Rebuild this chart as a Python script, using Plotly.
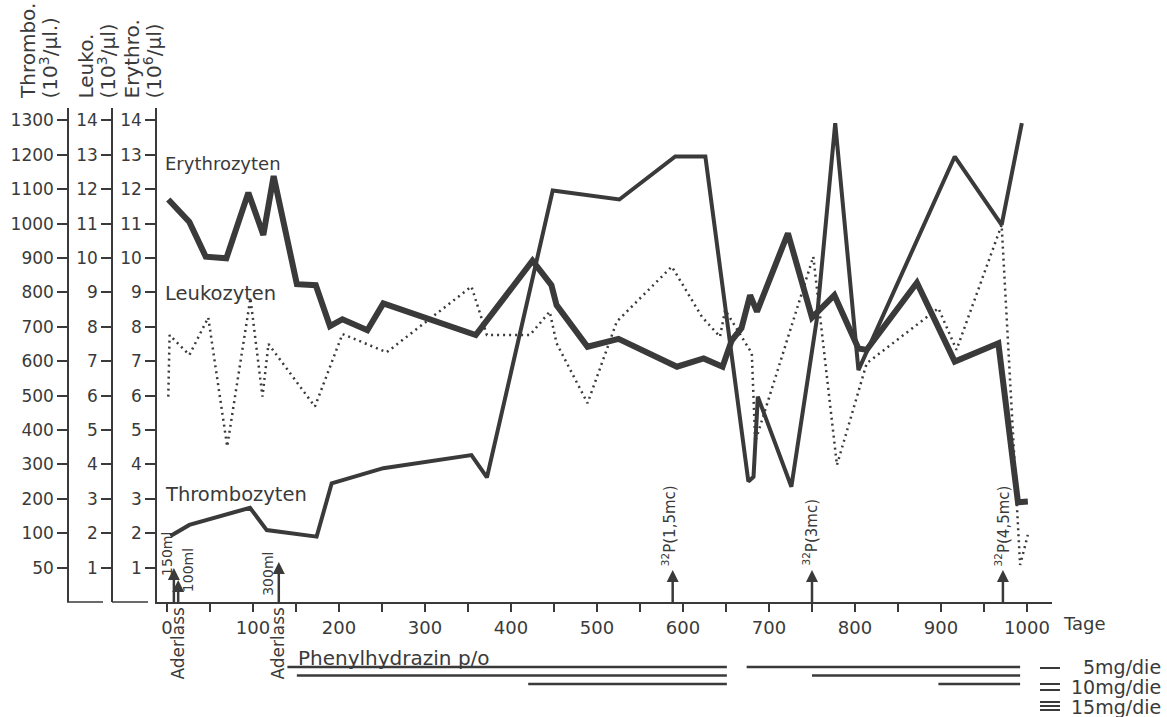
import numpy as np
import plotly.graph_objects as go

# ---------------- data ----------------
# Erythrozyten (10^6/µl)
ery_days = [1.5, 26, 45, 69, 94.6, 112, 124, 151, 173, 189.5, 204, 233, 251.5, 359, 425,
            447, 453, 489, 525, 593, 624, 646, 656.6, 668, 678, 686, 722, 750, 776, 804,
            813.6, 872, 916, 966.7, 989.5, 1001]
ery_vals = [11.7, 11.05, 10.04, 9.99, 11.9, 10.67, 12.38, 9.24, 9.21, 8.02, 8.22, 7.9, 8.68,
            7.76, 9.92, 9.21, 8.63, 7.42, 7.65, 6.84, 7.08, 6.84, 7.6, 7.96, 8.92, 8.44, 10.72,
            8.27, 8.92, 7.37, 7.33, 9.28, 6.99, 7.52, 2.9, 2.92]

# Leukozyten (10^3/µl)
leu_days = [1.5, 3, 26, 48, 70, 97, 111, 118, 172, 204, 255.5, 354, 372, 422, 445, 453, 489,
            523, 587, 622, 643, 649, 680, 684, 751.5, 779, 813.6, 897, 918, 970.5, 992, 1001]
leu_vals = [5.97, 7.76, 7.18, 8.27, 4.52, 8.83, 5.97, 7.5, 5.68, 7.79, 7.26, 9.17, 7.76, 7.76,
            8.44, 7.52, 5.78, 8.15, 9.75, 8.29, 7.71, 8.49, 7.23, 4.66, 10.04, 3.98, 6.94, 8.54,
            7.33, 10.96, 1.08, 1.95]

# Thrombozyten (10^3/µl)
thr_days = [4, 26, 96.5, 116, 174, 191.5, 251.5, 354, 372, 448.5, 526, 591, 626, 676, 682, 687,
            726, 755.5, 777, 804, 916, 970.5, 994]
thr_vals = [96, 124, 174, 109, 95, 245, 289, 327, 262, 1096, 1070, 1195, 1195, 250, 264, 497,
            235, 720, 1292, 574, 1195, 996, 1292]

# axis tick labels
unit_ticks = list(range(1, 15))
thr_tick_labels = [50] + list(range(100, 1301, 100))
x_major = list(range(0, 1001, 100))

# events
ader_days = [8, 13, 130]
ader_tips = [0.99, 0.64, 1.16]
ader_vols = ["150ml", "100ml", "300ml"]
p32_days = [588, 750, 972]
p32_tips = [0.93, 0.93, 0.93]
p32_doses = ["1,5", "3", "4,5"]

# Phenylhydrazin p/o dosage periods (row = number of 5 mg units)
phen_start = [140, 151, 420, 674, 750, 897]
phen_end = [651, 651, 651, 992, 992, 992]
phen_row = [1, 2, 3, 1, 2, 3]

# ---------------- layout helpers ----------------
W, H = 1167, 717
INK = "#3a3a3a"
FONT = "DejaVu Sans"


def px(x):
    return x / W


def py(y):
    return 1 - y / H


X_LEFT, X_RIGHT = 157, 1052
X0, PPD = 167, 0.86            # pixel of day 0, pixels per day
Y0, PPU = 602, 34.4            # pixel of unit 0, pixels per unit
Y_TOP = 108
x_range = [(X_LEFT - X0) / PPD, (X_RIGHT - X0) / PPD]
y_range = [0, (Y0 - Y_TOP) / PPU]
y_domain = [py(Y0), py(Y_TOP)]

thr_units = np.interp(thr_vals, thr_tick_labels, unit_ticks)

fig = go.Figure()
fig.add_trace(go.Scatter(x=ery_days, y=ery_vals, mode="lines", yaxis="y",
                         line=dict(color=INK, width=6), hoverinfo="skip"))
fig.add_trace(go.Scatter(x=thr_days, y=thr_units, mode="lines", yaxis="y3",
                         line=dict(color=INK, width=4), hoverinfo="skip"))
fig.add_trace(go.Scatter(x=leu_days, y=leu_vals, mode="lines", yaxis="y2",
                         line=dict(color=INK, width=2.5, dash="2px,4px"), hoverinfo="skip"))
for s, e, r in zip(phen_start, phen_end, phen_row):
    fig.add_trace(go.Scatter(x=[s, e], y=[r, r], mode="lines", yaxis="y4",
                             line=dict(color=INK, width=2.5), hoverinfo="skip"))

# event arrows (shaft + head)
ev_days = ader_days + p32_days
ev_tips = ader_tips + p32_tips
shaft_x, shaft_y = [], []
for d, t in zip(ev_days, ev_tips):
    shaft_x += [d, d, None]
    shaft_y += [0, t - 0.25, None]
fig.add_trace(go.Scatter(x=shaft_x, y=shaft_y, mode="lines", yaxis="y",
                         line=dict(color=INK, width=2.5), hoverinfo="skip"))
fig.add_trace(go.Scatter(x=ev_days, y=ev_tips, mode="markers", yaxis="y",
                         marker=dict(symbol="arrow-up", size=12, color=INK,
                                     line=dict(width=0)), hoverinfo="skip"))

common_y = dict(range=y_range, showline=True, linecolor=INK, linewidth=1.5,
                ticks="outside", ticklen=10, tickwidth=1.5, tickcolor=INK,
                tickvals=unit_ticks, showgrid=False, zeroline=False,
                tickfont=dict(family=FONT, size=17, color=INK))

fig.update_layout(
    width=W, height=H, margin=dict(l=0, r=0, t=0, b=0),
    paper_bgcolor="white", plot_bgcolor="rgba(0,0,0,0)", showlegend=False,
    font=dict(family=FONT, size=18, color=INK),
    xaxis=dict(domain=[px(X_LEFT), px(X_RIGHT)], range=x_range, anchor="y",
               showline=True, linecolor=INK, linewidth=2, ticks="outside", ticklen=8,
               tickwidth=1.5, tickcolor=INK, tickvals=x_major,
               ticktext=[str(v) for v in x_major],
               minor=dict(tick0=50, dtick=100, ticks="outside", ticklen=8, tickwidth=1.5,
                          tickcolor=INK, showgrid=False),
               tickfont=dict(family=FONT, size=18, color=INK), showgrid=False, zeroline=False),
    yaxis=dict(domain=y_domain, anchor="x", ticktext=[str(v) for v in unit_ticks], **common_y),
    yaxis2=dict(overlaying="y", anchor="free", position=px(112), side="left",
                ticktext=[str(v) for v in unit_ticks], **common_y),
    yaxis3=dict(overlaying="y", anchor="free", position=px(68), side="left",
                ticktext=[str(v) for v in thr_tick_labels], **common_y),
    yaxis4=dict(domain=[0, 0.1], range=[6.88, -1.55], anchor="x", visible=False),
)

ann = []


def text_px(t, x, y, size=18, xanchor="left", yanchor="middle", angle=0):
    ann.append(dict(text=t, x=px(x), y=py(y), xref="paper", yref="paper", showarrow=False,
                    xanchor=xanchor, yanchor=yanchor, textangle=angle,
                    font=dict(family=FONT, size=size, color=INK)))


# axis titles
for t, x in [("Thrombo.", 28), ("(10<sup>3</sup>/µl.)", 49), ("Leuko.", 86),
             ("(10<sup>3</sup>/µl)", 107), ("Erythro.", 132), ("(10<sup>6</sup>/µl)", 153)]:
    text_px(t, x, 101, size=20, xanchor="center", yanchor="bottom", angle=-90)

# series labels
text_px("Erythrozyten", 163, 163, size=18)
text_px("Leukozyten", 163, 293, size=19.5)
text_px("Thrombozyten", 163, 494, size=19.5)

# bottom texts
text_px("Tage", 1061, 623)
text_px("Phenylhydrazin p/o", 296, 658, size=20)
text_px("5mg/die", 1163, 667, size=19, xanchor="right")
text_px("10mg/die", 1163, 687, size=19, xanchor="right")
text_px("15mg/die", 1163, 707, size=19, xanchor="right")

# Aderlass labels
for d, v, sh, bot in zip(ader_days, ader_vols, [-7, 10, -11], [578, 594, 598]):
    ann.append(dict(text=v, x=d, xref="x", xshift=sh, y=py(bot), yref="paper",
                    showarrow=False, xanchor="center", yanchor="bottom", textangle=-90,
                    font=dict(family=FONT, size=14, color=INK)))
for x in [177, 277]:
    text_px("Aderlass", x, 605, size=17, xanchor="center", yanchor="top", angle=-90)

# 32P labels
for d, dose, sh in zip(p32_days, p32_doses, [-4, -2, -1]):
    ann.append(dict(text="<sup>32</sup>P(" + dose + "mc)", x=d, xref="x", xshift=sh,
                    y=py(568), yref="paper", showarrow=False, xanchor="center",
                    yanchor="bottom", textangle=-90,
                    font=dict(family=FONT, size=15, color=INK)))

fig.update_layout(annotations=ann)

# axis base stubs and dosage legend glyphs
shapes = []
for x0, x1 in [(67, 103), (112, 148)]:
    shapes.append(dict(type="line", xref="paper", yref="paper", x0=px(x0), x1=px(x1),
                       y0=py(Y0), y1=py(Y0), line=dict(color=INK, width=1.5)))
for yy in [668, 684, 690, 702, 706, 710]:
    shapes.append(dict(type="line", xref="paper", yref="paper", x0=px(1040), x1=px(1060),
                       y0=py(yy), y1=py(yy), line=dict(color=INK, width=2)))
fig.update_layout(shapes=shapes)

fig.write_html("out.html", config={"displayModeBar": False},
               post_script="document.body.style.margin='0';document.body.style.overflow='hidden';")
